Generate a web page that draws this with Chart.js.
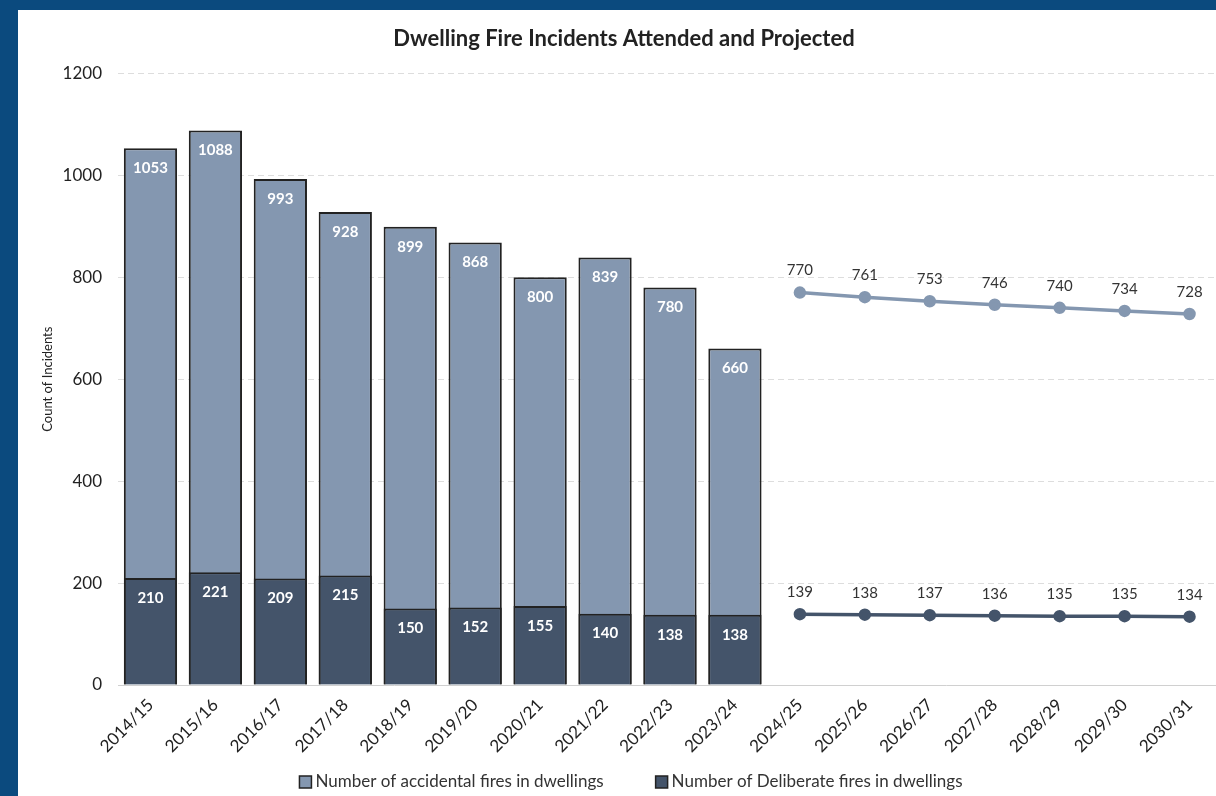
<!DOCTYPE html>
<html>
<head>
<meta charset="utf-8">
<script src="https://cdn.jsdelivr.net/npm/chart.js@4.4.1/dist/chart.umd.min.js"></script>
<style>
  html, body { margin: 0; padding: 0; overflow: hidden; background: #0b4a7e; }
  #wrap { position: absolute; left: 18px; top: 10px; width: 1212px; height: 786px; background: #ffffff; }
</style>
</head>
<body>
<div id="wrap"><canvas id="chart" width="1212" height="786"></canvas></div>
<script>
// Years: ten attended, seven projected
var years = ['2014/15', '2015/16', '2016/17', '2017/18', '2018/19', '2019/20', '2020/21', '2021/22', '2022/23', '2023/24',
             '2024/25', '2025/26', '2026/27', '2027/28', '2028/29', '2029/30', '2030/31'];

var accidental = [1053, 1088, 993, 928, 899, 868, 800, 839, 780, 660];
var deliberate = [210, 221, 209, 215, 150, 152, 155, 140, 138, 138];

var accidentalProjected = [770, 761, 753, 746, 740, 734, 728];
var deliberateProjected = [139, 138, 137, 136, 135, 135, 134];

var yTicks = [0, 200, 400, 600, 800, 1000, 1200];

var LIGHT = '#8497b0';
var DARK = '#44546a';
var FONT = 'Lato, "Liberation Sans", sans-serif';

// pad the series so they line up on the shared category axis
function pad(values, before, total) {
	var out = [];
	for (var i = 0; i < total; i++) {
		var j = i - before;
		out.push(j >= 0 && j < values.length ? values[j] : null);
	}
	return out;
}

var n = years.length;

// Draws the value labels: white bold inside bars, grey above line points
var valueLabels = {
	id: 'valueLabels',
	afterDatasetsDraw: function(chart) {
		var ctx = chart.ctx;
		ctx.save();
		ctx.textAlign = 'center';
		ctx.textBaseline = 'middle';
		chart.data.datasets.forEach(function(ds, di) {
			var meta = chart.getDatasetMeta(di);
			meta.data.forEach(function(el, i) {
				var v = ds.data[i];
				if (v === null || v === undefined) {
					return;
				}
				if (ds.type === 'bar') {
					ctx.fillStyle = '#ffffff';
					ctx.font = 'bold 15px ' + FONT;
					ctx.fillText(String(v), el.x, el.y + 20);
				} else {
					ctx.fillStyle = '#333333';
					ctx.font = '15px ' + FONT;
					ctx.fillText(String(v), el.x, el.y - 22);
				}
			});
		});
		ctx.restore();
	}
};

// Bottom legend for the two bar series only (Excel-style spacing)
var bottomLegend = {
	id: 'bottomLegend',
	afterDraw: function(chart) {
		var ctx = chart.ctx;
		var items = chart.data.datasets.slice(0, 2);
		var box = 12, gapText = 4, gapItem = 52;
		ctx.save();
		ctx.font = '17px ' + FONT;
		ctx.textBaseline = 'middle';
		ctx.textAlign = 'left';
		var total = 0;
		items.forEach(function(ds, i) {
			total += box + gapText + ctx.measureText(ds.label).width + (i ? 0 : gapItem);
		});
		var x = 613 - total / 2;
		var y = chart.height - 14;
		items.forEach(function(ds) {
			ctx.fillStyle = ds.backgroundColor;
			ctx.fillRect(x, y - box / 2, box, box);
			ctx.strokeStyle = '#222222';
			ctx.lineWidth = 1.5;
			ctx.strokeRect(x, y - box / 2, box, box);
			x += box + gapText;
			ctx.fillStyle = '#333333';
			ctx.fillText(ds.label, x, y);
			x += ctx.measureText(ds.label).width + gapItem;
		});
		ctx.restore();
	}
};

new Chart(document.getElementById('chart').getContext('2d'), {
	data: {
		labels: years,
		datasets: [
			{
				type: 'bar',
				label: 'Number of accidental fires in dwellings',
				data: pad(accidental, 0, n),
				backgroundColor: LIGHT,
				borderColor: '#222222',
				borderWidth: 2,
				grouped: false,
				order: 2
			},
			{
				type: 'bar',
				label: 'Number of Deliberate fires in dwellings',
				data: pad(deliberate, 0, n),
				backgroundColor: DARK,
				borderColor: '#222222',
				borderWidth: 2,
				grouped: false,
				order: 1
			},
			{
				type: 'line',
				label: 'Projected accidental',
				data: pad(accidentalProjected, 10, n),
				borderColor: LIGHT,
				backgroundColor: LIGHT,
				borderWidth: 3.5,
				pointRadius: 4.5,
				pointHoverRadius: 4.5,
				order: 0
			},
			{
				type: 'line',
				label: 'Projected deliberate',
				data: pad(deliberateProjected, 10, n),
				borderColor: DARK,
				backgroundColor: DARK,
				borderWidth: 3.5,
				pointRadius: 4.5,
				pointHoverRadius: 4.5,
				order: 0
			}
		]
	},
	options: {
		responsive: false,
		animation: false,
		layout: { padding: { top: 12, bottom: 30, left: 0, right: 0 } },
		datasets: {
			bar: { categoryPercentage: 1, barPercentage: 0.82 }
		},
		plugins: {
			title: {
				display: true,
				text: 'Dwelling Fire Incidents Attended and Projected',
				color: '#222222',
				font: { family: FONT, size: 22, weight: 'bold' },
				padding: { top: 4, bottom: 21 }
			},
			legend: { display: false },
			tooltip: { enabled: false }
		},
		scales: {
			x: {
				afterFit: function(scale) { scale.height = 81; },
				grid: { display: false, drawTicks: false },
				border: { color: '#d0d0d0', width: 1 },
				ticks: {
					color: '#222222',
					font: { family: FONT, size: 17 },
					maxRotation: 45,
					minRotation: 45,
					padding: 10
				}
			},
			y: {
				min: 0,
				max: 1200,
				afterBuildTicks: function(scale) {
					scale.ticks = yTicks.map(function(v) { return { value: v }; });
				},
				afterFit: function(scale) { scale.width = 100; },
				grid: { color: '#dddddd', drawTicks: false },
				border: { display: false, dash: [6, 4] },
				ticks: {
					color: '#222222',
					font: { family: FONT, size: 17 },
					padding: 16,
					callback: function(v) { return String(v); }
				},
				title: {
					display: true,
					text: 'Count of Incidents',
					color: '#222222',
					font: { family: FONT, size: 13 },
					padding: { top: 22, bottom: 0 }
				}
			}
		}
	},
	plugins: [valueLabels, bottomLegend]
});
</script>
</body>
</html>
